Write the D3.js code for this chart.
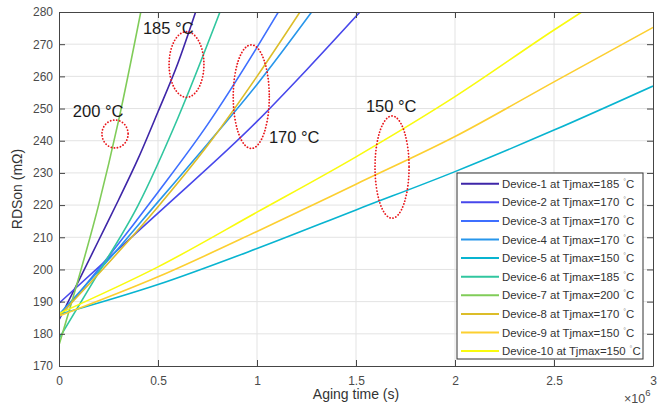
<!DOCTYPE html>
<html lang="en">
<head>
<meta charset="UTF-8">
<title>RDSon vs aging time</title>
<script src="https://d3js.org/d3.v7.min.js"></script>
<style>
  body { margin: 0; background: #fff; }
  text { font-family: "Liberation Sans", Arial, sans-serif; }
</style>
</head>
<body>
<script>
// values (time in 1e6 s, RDSon in mOhm)
const devices = ["Device-1", "Device-2", "Device-3", "Device-4", "Device-5",
                 "Device-6", "Device-7", "Device-8", "Device-9", "Device-10"];
const tjmax = [185, 170, 170, 170, 150, 185, 200, 170, 150, 150];

const agingTime = [
  [0, 0.1, 0.2, 0.3, 0.4, 0.5, 0.6, 0.69],
  [0, 0.5, 1.0, 1.25, 1.52],
  [0, 0.25, 0.5, 0.75, 1.0, 1.108],
  [0, 0.25, 0.5, 0.75, 1.0, 1.276],
  [0, 0.5, 1.0, 1.5, 2.0, 2.5, 3.0],
  [0, 0.2, 0.4, 0.6, 0.813],
  [0, 0.1, 0.2, 0.3, 0.413],
  [0, 0.25, 0.5, 0.75, 1.0, 1.217],
  [0, 0.5, 1.0, 1.5, 2.0, 2.5, 3.0],
  [0, 0.5, 1.0, 1.5, 2.0, 2.5, 2.64]
];
const rdson = [
  [184.3, 196.5, 209, 221.5, 234.5, 249, 264, 280],
  [189.5, 217.5, 246, 262, 280],
  [185, 204, 224, 245, 269, 280],
  [186, 203, 221, 239, 257.5, 280],
  [186, 195.3, 206.5, 218.5, 230.4, 243.3, 257],
  [178.5, 199, 220, 247, 280],
  [176.5, 197.5, 220, 246, 280],
  [185.5, 202, 219.5, 238.5, 260, 280],
  [185.5, 197.7, 211.8, 226.5, 241.3, 258.3, 275.2],
  [186.3, 200.8, 217.8, 235, 253.7, 274.4, 280]
];

const xTicks = [0, 0.5, 1, 1.5, 2, 2.5, 3];
const xTickLabels = ["0", "0.5", "1", "1.5", "2", "2.5", "3"];
const yTicks = [170, 180, 190, 200, 210, 220, 230, 240, 250, 260, 270, 280];

// red dotted ellipses + temperature labels, in data units
const markTemps = ["200 °C", "185 °C", "170 °C", "150 °C"];
const markCx = [0.283, 0.644, 0.971, 1.682];
const markCy = [242.1, 263.7, 253.7, 231.8];
const markRx = [0.066, 0.088, 0.091, 0.086];
const markRy = [4.35, 10.2, 16.1, 15.9];
const labelX = [0.07, 0.424, 1.06, 1.55];
const labelY = [247.4, 273.3, 239.3, 248.9];

// parula colours
const colors = ["#3e26a8", "#4747eb", "#3e6fff", "#2796eb", "#08b4d0",
                "#31c69f", "#80cc59", "#dcbd29", "#fccf30", "#f9fb0e"];

const width = 667, height = 412;
const margin = {top: 12, right: 14, bottom: 46, left: 59};
const iw = width - margin.left - margin.right;
const ih = height - margin.top - margin.bottom;

const svg = d3.select("body").append("svg")
  .attr("width", width)
  .attr("height", height);

const x = d3.scaleLinear().domain([0, 3]).range([0, iw]);
const y = d3.scaleLinear().domain([170, 280]).range([ih, 0]);

const g = svg.append("g").attr("transform", `translate(${margin.left},${margin.top})`);

g.append("clipPath").attr("id", "plotclip")
  .append("rect").attr("width", iw).attr("height", ih);

// grid
g.append("g").selectAll("line").data(xTicks.slice(1, -1)).join("line")
  .attr("x1", d => x(d)).attr("x2", d => x(d))
  .attr("y1", 0).attr("y2", ih)
  .attr("stroke", "#e3e3e3").attr("stroke-width", 1);
g.append("g").selectAll("line").data(yTicks.slice(1, -1)).join("line")
  .attr("x1", 0).attr("x2", iw)
  .attr("y1", d => y(d)).attr("y2", d => y(d))
  .attr("stroke", "#e3e3e3").attr("stroke-width", 1);

// curves
const line = d3.line()
  .x(d => x(d[0]))
  .y(d => y(d[1]))
  .curve(d3.curveMonotoneX);

g.append("g").attr("clip-path", "url(#plotclip)")
  .selectAll("path").data(devices).join("path")
  .attr("d", (d, i) => line(agingTime[i].map((t, j) => [t, rdson[i][j]])))
  .attr("fill", "none")
  .attr("stroke", (d, i) => colors[i])
  .attr("stroke-width", 1.6);

// axes
const axisColor = "#454545";
const axBottom = g.append("g").attr("transform", `translate(0,${ih})`)
  .call(d3.axisBottom(x).tickValues(xTicks).tickFormat((d, i) => xTickLabels[i])
    .tickSizeInner(-6).tickSizeOuter(0).tickPadding(10));
const axLeft = g.append("g")
  .call(d3.axisLeft(y).tickValues(yTicks).tickSizeInner(-6).tickSizeOuter(0).tickPadding(6));
const axTop = g.append("g")
  .call(d3.axisTop(x).tickValues(xTicks).tickFormat("").tickSizeInner(-6).tickSizeOuter(0));
const axRight = g.append("g").attr("transform", `translate(${iw},0)`)
  .call(d3.axisRight(y).tickValues(yTicks).tickFormat("").tickSizeInner(-6).tickSizeOuter(0));

[axBottom, axLeft, axTop, axRight].forEach(a => {
  a.select(".domain").attr("stroke", axisColor);
  a.selectAll(".tick line").attr("stroke", axisColor);
  a.selectAll("text").attr("fill", "#4a4a4a").attr("font-size", 12)
    .attr("font-family", "'Liberation Sans', Arial, sans-serif");
});

// axis titles
g.append("text")
  .attr("x", iw / 2).attr("y", ih + 33)
  .attr("text-anchor", "middle")
  .attr("font-size", 14).attr("fill", "#333")
  .text("Aging time (s)");

g.append("text")
  .attr("transform", `translate(${-37},${ih / 2}) rotate(-90)`)
  .attr("text-anchor", "middle")
  .attr("font-size", 14).attr("fill", "#333")
  .text("RDSon (mΩ)");

const expo = g.append("text")
  .attr("x", iw - 29).attr("y", ih + 37)
  .attr("font-size", 12.5).attr("fill", "#4a4a4a");
expo.append("tspan").text("×10");
expo.append("tspan").attr("dy", -7).attr("font-size", 9.5).text("6");

// ellipses and temperature labels
const marks = g.append("g");
marks.selectAll("ellipse").data(markTemps).join("ellipse")
  .attr("cx", (d, i) => x(markCx[i]))
  .attr("cy", (d, i) => y(markCy[i]))
  .attr("rx", (d, i) => x(markRx[i]) - x(0))
  .attr("ry", (d, i) => y(0) - y(markRy[i]))
  .attr("fill", "none")
  .attr("stroke", "#e8161b")
  .attr("stroke-width", 1.8)
  .attr("stroke-dasharray", "0.1 3")
  .attr("stroke-linecap", "round");

marks.selectAll("text").data(markTemps).join("text")
  .attr("x", (d, i) => x(labelX[i]))
  .attr("y", (d, i) => y(labelY[i]))
  .attr("font-family", "Lato, 'Open Sans', sans-serif")
  .attr("font-size", 16.5)
  .attr("fill", "#1a1a1a")
  .text(d => d);

// legend
const legW = 186, legH = 186;
const legX = iw - 10 - legW, legY = ih - 7 - legH;
const leg = g.append("g").attr("transform", `translate(${legX},${legY})`);
leg.append("rect")
  .attr("width", legW).attr("height", legH)
  .attr("fill", "#fff").attr("stroke", "#333").attr("stroke-width", 1);

const rowH = 18.6;
const rows = leg.selectAll("g.row").data(devices).join("g")
  .attr("class", "row")
  .attr("transform", (d, i) => `translate(0,${10.7 + i * rowH})`);
rows.append("line")
  .attr("x1", 4).attr("x2", 42)
  .attr("stroke", (d, i) => colors[i])
  .attr("stroke-width", 2);
const lt = rows.append("text")
  .attr("x", 45).attr("dy", "0.36em")
  .attr("font-size", 11.4).attr("fill", "#333");
lt.append("tspan").text((d, i) => `${d} at Tjmax=${tjmax[i]}`);
lt.append("tspan").attr("dx", 4).attr("dy", -4).attr("font-size", 7).attr("fill", "#888").text("°");
lt.append("tspan").attr("dy", 4).text("C");
</script>
</body>
</html>
